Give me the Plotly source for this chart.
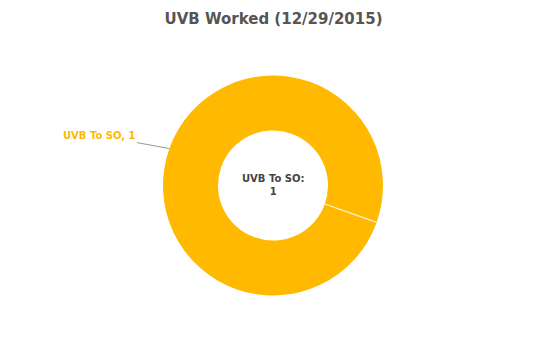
import math
import plotly.graph_objects as go

labels = ["UVB To SO"]
values = [1]
title_text = "UVB Worked (12/29/2015)"
colors = ["#FFB900"]

W, H = 547, 347
cx, cy, R = 273.0, 185.5, 110.0
hole = 0.5
rotation = 109.6  # degrees clockwise from 12 o'clock

dom_x = [(cx - R) / W, (cx + R) / W]
dom_y = [(H - cy - R) / H, (H - cy + R) / H]

fig = go.Figure()
fig.add_trace(go.Pie(
    labels=labels, values=values, hole=hole, rotation=rotation,
    direction="clockwise", sort=False,
    marker=dict(colors=colors, line=dict(color="white", width=0)),
    textinfo="none", hoverinfo="label+value", showlegend=False,
    domain=dict(x=dom_x, y=dom_y),
))

# slice border line at the start angle
a = math.radians(rotation)
def pt(r):
    px = cx + r * math.sin(a)
    py = cy - r * math.cos(a)
    return px / W, (H - py) / H
x0, y0 = pt(R * hole)
x1, y1 = pt(R)
fig.add_shape(type="line", xref="paper", yref="paper", x0=x0, y0=y0, x1=x1, y1=y1,
              line=dict(color="rgba(255,255,255,0.85)", width=1.2))

# outside label at mid angle of the slice
total = sum(values)
mid = math.radians(rotation + 360 * values[0] / total / 2)
ex = cx + R * math.sin(mid)
ey = cy - R * math.cos(mid)
fig.add_annotation(
    x=ex / W, y=(H - ey) / H, xref="paper", yref="paper",
    text=f"<b>{labels[0]}, {values[0]}</b>",
    showarrow=True, arrowhead=0, arrowwidth=1, arrowcolor="#999999",
    ax=-70, ay=-13, font=dict(family="DejaVu Sans", size=10, color=colors[0]),
)

# center text
fig.add_annotation(
    x=cx / W, y=(H - cy) / H, xref="paper", yref="paper",
    text=f"<b>{labels[0]}:<br>{values[0]}</b>", showarrow=False,
    font=dict(family="DejaVu Sans", size=10, color="#444444"),
)

fig.update_layout(
    width=W, height=H,
    margin=dict(l=0, r=0, t=0, b=0),
    paper_bgcolor="white", plot_bgcolor="white",
    title=dict(text=f"<b>{title_text}</b>", x=0.5, xanchor="center", y=1 - 19 / H, yanchor="middle",
               font=dict(family="DejaVu Sans", size=15, color="#555555")),
)

fig.write_html("out.html")
